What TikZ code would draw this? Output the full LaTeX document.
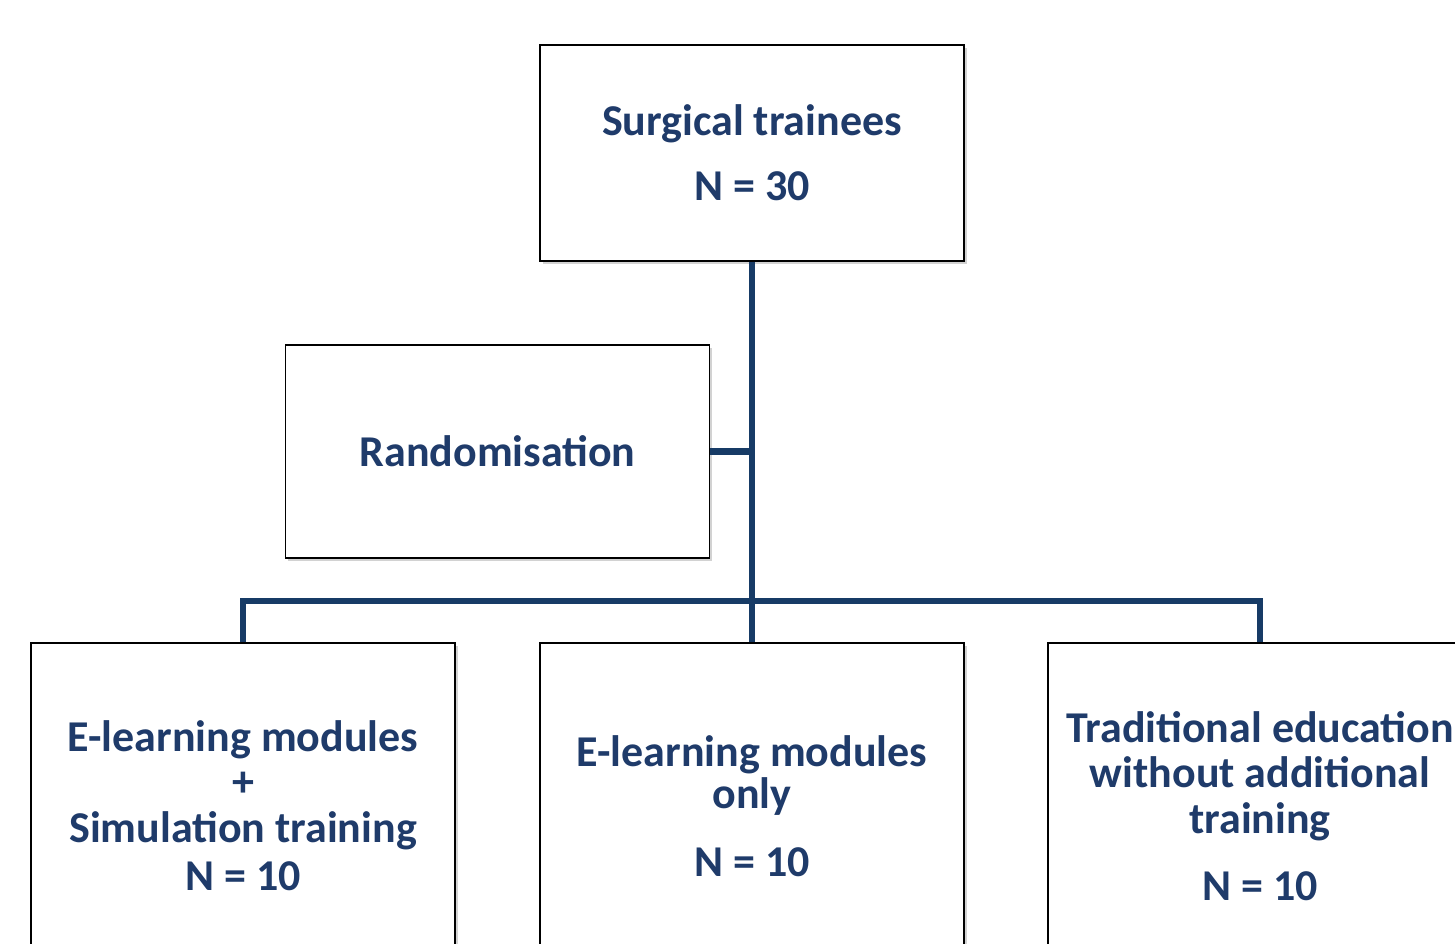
\documentclass[tikz,border=0pt]{standalone}
\usepackage{fontspec}
\setmainfont{Carlito}
\usetikzlibrary{shadows}
\definecolor{navy}{HTML}{1F3B6A}
\definecolor{linecol}{HTML}{173B66}
\begin{document}
\begin{tikzpicture}[x=1pt,y=-1pt,
  box/.style={draw=black, line width=1.3pt, fill=white, minimum width=424pt,
    minimum height=216pt, inner sep=0pt,
    drop shadow={shadow xshift=2.5pt, shadow yshift=-2.5pt, opacity=0.35},
    font=\fontsize{44}{46}\selectfont\bfseries, text=navy, align=center},
  conn/.style={draw=linecol, line width=6.5pt, line join=miter}]
\clip (0,0) rectangle (1455,943);
\fill[white] (0,0) rectangle (1455,943);
\node[box] (top) at (752,153) {Surgical trainees\\[19pt]N = 30};
\node[box, minimum height=213pt] (rand) at (497.5,451.5) {Randomisation};
\node[box, minimum height=326pt] (g1) at (243,806) {E-learning modules\\[-1pt]+\\Simulation training\\[2pt]N = 10};
\node[box, minimum height=326pt] (g2) at (752,806) {E-learning modules\\[-4pt]only\\[22pt]N = 10};
\node[box, minimum height=326pt] (g3) at (1260,806) {Traditional education\\[-1pt]without additional\\training\\[21pt]N = 10};
\coordinate (bus) at (752,601);
\draw[conn] (top.south) -- (g2.north);
\draw[conn] (g1.north) |- (bus) -| (g3.north);
\draw[conn] (rand.east) -- (rand.east -| top.south);
\end{tikzpicture}
\end{document}
